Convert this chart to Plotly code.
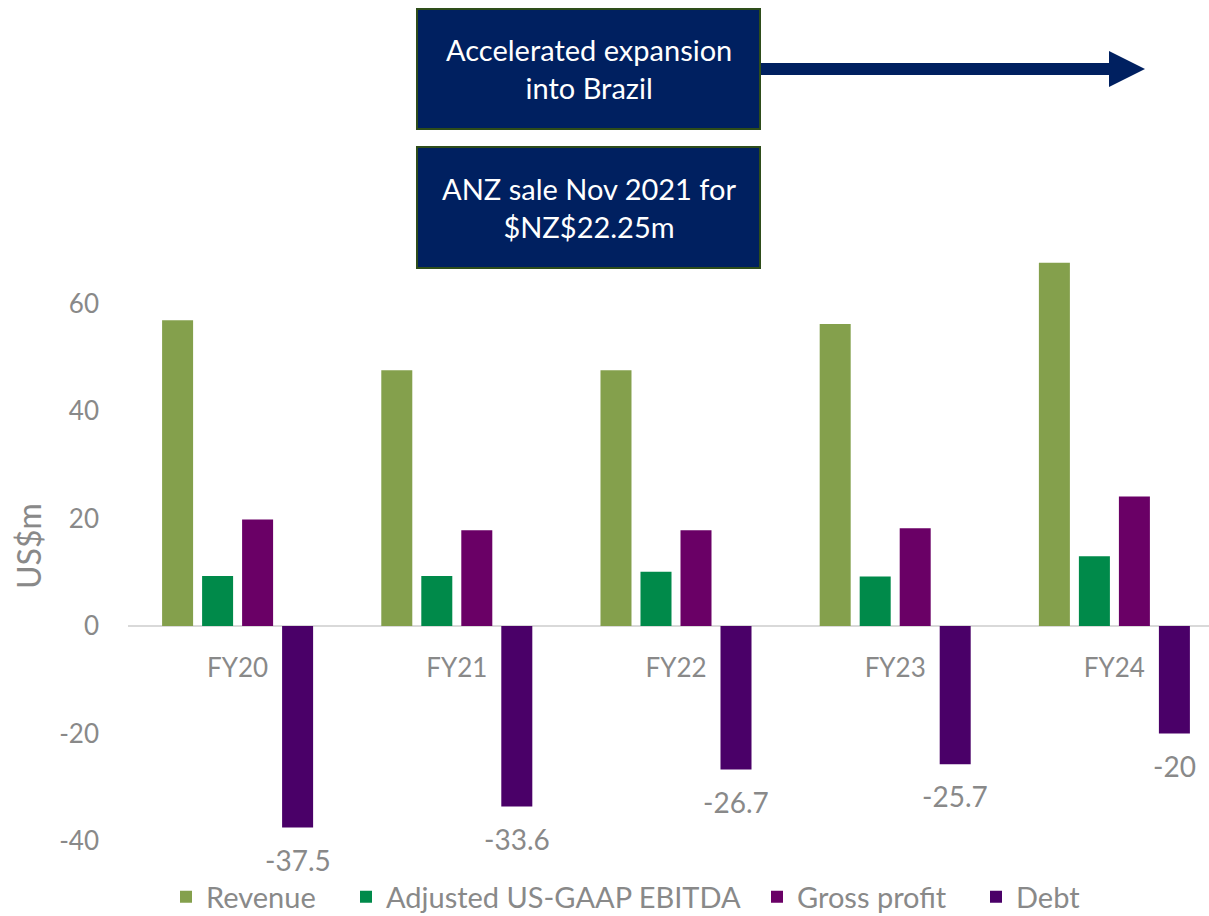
import plotly.graph_objects as go

categories = ["FY20", "FY21", "FY22", "FY23", "FY24"]
revenue = [56.9, 47.6, 47.6, 56.2, 67.6]
ebitda = [9.3, 9.3, 10.1, 9.2, 13.0]
gross_profit = [19.8, 17.8, 17.8, 18.2, 24.1]
debt = [-37.5, -33.6, -26.7, -25.7, -20]
series_names = ["Revenue", "Adjusted US-GAAP EBITDA", "Gross profit", "Debt"]
series_colors = ["#84A04C", "#008A4A", "#6A0066", "#4A0068"]
y_ticks = [-40, -20, 0, 20, 40, 60]
y_tick_text = ["-40", "-20", "0", "20", "40", "60"]
box_texts = ["Accelerated expansion<br>into Brazil", "ANZ sale Nov 2021 for<br>$NZ$22.25m"]

W, H = 1209, 916
ML, MR, MT, MB = 128, 0, 239, 32
PW, PH = W - ML - MR, H - MT - MB
YR = [-48, 72]
GREY = "#898989"
FONT = "Lato"


def px(x):
    return (x - ML) / PW


def py(y):
    return (H - MB - y) / PH


legend_ids = ["legend", "legend2", "legend3", "legend4"]
legend_sq_x = [181, 361, 772, 991]

fig = go.Figure()
for name, vals, col, lid in zip(series_names, [revenue, ebitda, gross_profit, debt], series_colors, legend_ids):
    fig.add_trace(go.Bar(x=categories, y=vals, name=name, legend=lid,
                         marker=dict(color=col, line=dict(width=0))))

# data labels for debt
for c, v in zip(categories, debt):
    fig.add_annotation(x=c, y=v, xref="x", yref="y", text=f"{v:g}", showarrow=False,
                       xshift=60, yshift=-32, yanchor="middle",
                       font=dict(family=FONT, size=28, color=GREY))

# boxes
box_y = [(9, 129), (147, 268)]
for (y0, y1), t in zip(box_y, box_texts):
    fig.add_shape(type="rect", xref="paper", yref="paper", x0=px(417), x1=px(760), y0=py(y0), y1=py(y1),
                  fillcolor="#002060", line=dict(color="#2E4D1A", width=2), layer="above")
    fig.add_annotation(xref="paper", yref="paper", x=px(588.5), y=py((y0 + y1) / 2), text=t,
                       showarrow=False, xanchor="center", yanchor="middle",
                       font=dict(family=FONT, size=29, color="white"))

# arrow
fig.add_shape(type="rect", xref="paper", yref="paper", x0=px(761), x1=px(1110), y0=py(63), y1=py(75),
              fillcolor="#002060", line=dict(width=0), layer="above")
fig.add_shape(type="path", xref="paper", yref="paper",
              path=f"M{px(1109)},{py(51)} L{px(1145)},{py(69)} L{px(1109)},{py(87)} Z",
              fillcolor="#002060", line=dict(width=0), layer="above")

# y axis title
fig.add_annotation(xref="paper", yref="paper", x=px(28), y=py(546), text="US$m", textangle=-90,
                   showarrow=False, xanchor="center", yanchor="middle",
                   font=dict(family=FONT, size=32, color=GREY))

legend_common = dict(orientation="h", xanchor="left", yanchor="middle",
                     font=dict(family=FONT, size=29, color=GREY), bgcolor="rgba(0,0,0,0)")
legends = {}
for lid, sx in zip(legend_ids, legend_sq_x):
    legends[lid] = dict(legend_common, x=px(sx - 15), y=py(897))

fig.update_layout(
    width=W, height=H,
    margin=dict(l=ML, r=MR, t=MT, b=MB, autoexpand=False),
    paper_bgcolor="white", plot_bgcolor="white",
    barmode="group", bargap=0.27, bargroupgap=0.225,
    font=dict(family=FONT, color=GREY),
    showlegend=True,
    xaxis=dict(range=[-0.5, 4.5 - 15 / 219.25], showgrid=False, showline=False, zeroline=False,
               anchor="free", position=-YR[0] / (YR[1] - YR[0]), ticks="", ticklabelstandoff=24,
               tickfont=dict(family=FONT, size=26, color=GREY), fixedrange=True),
    yaxis=dict(range=YR, tickvals=y_ticks, ticktext=y_tick_text, showgrid=False, zeroline=True,
               zerolinecolor="#D9D9D9", zerolinewidth=2, showline=False, ticks="", ticklabelstandoff=28,
               tickfont=dict(family=FONT, size=26, color=GREY)),
    **legends,
)

fig.write_html("out.html", config={"displayModeBar": False},
               post_script="document.body.style.margin='0';document.body.style.overflow='hidden';")
